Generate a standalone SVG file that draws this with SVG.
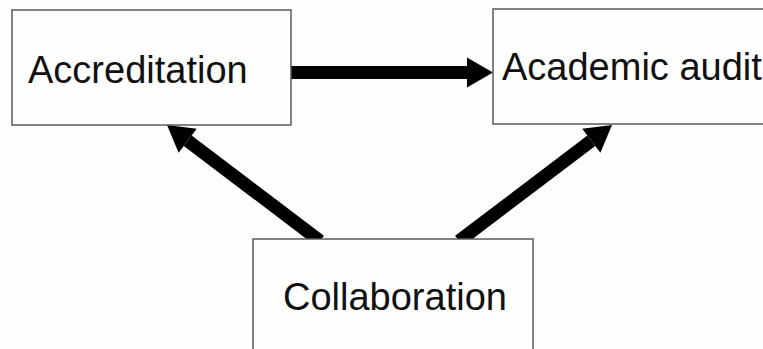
<svg xmlns="http://www.w3.org/2000/svg" width="763" height="349" viewBox="0 0 763 349">
  <style>
    .box { fill: #fefefe; stroke: #5a5a5a; stroke-width: 1.5; }
    .label { font-family: "Liberation Sans", Arial, sans-serif; font-size: 38px; fill: #111; }
    .arrow { stroke: #000; stroke-width: 13; fill: none; marker-end: url(#head); }
  </style>
  <defs>
    <marker id="head" markerUnits="userSpaceOnUse" markerWidth="28" markerHeight="32" refX="0" refY="16" orient="auto" overflow="visible">
      <path d="M0,1 L26,16 L0,31 Z" fill="#000"/>
    </marker>
  </defs>
  <rect width="763" height="349" fill="#fdfdfd"/>

  <g id="connectors">
    <line class="arrow" x1="291" y1="72.5" x2="467" y2="72.5"/>
    <line class="arrow" x1="320" y1="241" x2="187.7" y2="140.7"/>
    <line class="arrow" x1="459" y1="241" x2="591.3" y2="140.7"/>
  </g>

  <g id="accreditation">
    <rect class="box" x="12" y="10" width="279" height="115"/>
    <text class="label" x="28" y="83">Accreditation</text>
  </g>

  <g id="academic-audit">
    <rect class="box" x="493" y="9" width="290" height="115"/>
    <text class="label" x="502" y="80">Academic audit</text>
  </g>

  <g id="collaboration">
    <rect class="box" x="253" y="239" width="280" height="130"/>
    <text class="label" x="283" y="310">Collaboration</text>
  </g>
</svg>
